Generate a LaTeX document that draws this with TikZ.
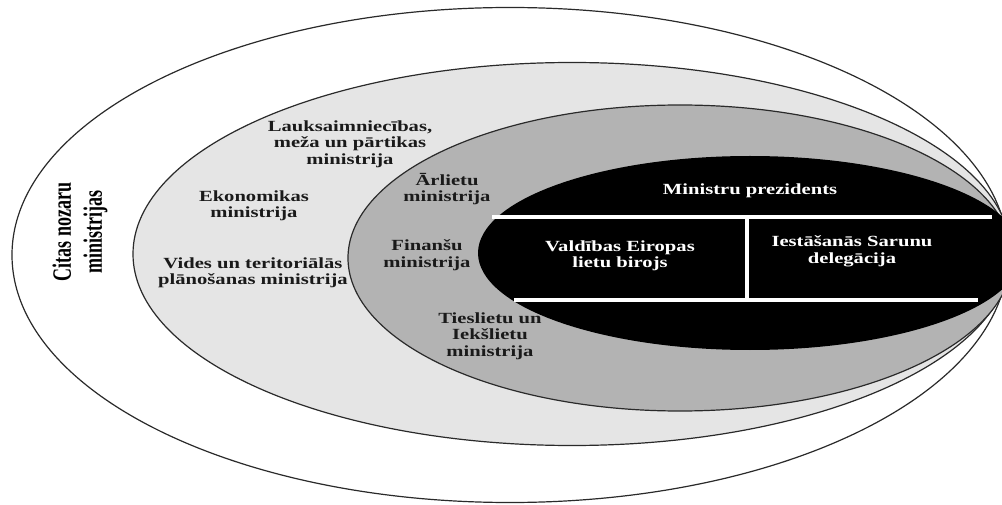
\documentclass[tikz,border=0pt]{standalone}
\usepackage{fontspec}
\setmainfont{Liberation Serif}
% wide bold face for the ministry labels, narrow face for the vertical label
\newfontfamily\widefont[FakeStretch=1.33]{Liberation Serif}
\newfontfamily\narrowfont[FakeStretch=0.68]{Liberation Serif}
\definecolor{ringline}{HTML}{2A2A2A}
\definecolor{ringlight}{HTML}{E5E5E5}
\definecolor{ringmid}{HTML}{B3B3B3}
\definecolor{labelink}{HTML}{1A1A1A}
\tikzset{
  ring/.style={draw=ringline, line width=1.2pt},
  divider/.style={draw=white, line width=3.5pt},
  lbl/.style={align=center, inner sep=0pt, text=labelink,
    font=\widefont\bfseries\fontsize{15.5}{16.5}\selectfont},
  lblw/.style={lbl, text=white},
  vlbl/.style={align=center, inner sep=0pt, rotate=90, text=black,
    font=\narrowfont\bfseries\fontsize{26.5}{31}\selectfont},
}
\begin{document}
\begin{tikzpicture}[x=1pt,y=-1pt]
\useasboundingbox (0,0) rectangle (1002,505);
\clip (0,0) rectangle (1002,505);
\fill[white] (0,0) rectangle (1002,505);

% nested rings, all meeting at the right edge
\draw[ring, fill=white]     (510,255) ellipse [x radius=498, y radius=247.5];
\draw[ring, fill=ringlight] (572,254) ellipse [x radius=439, y radius=191.5];
\draw[ring, fill=ringmid]   (680,258) ellipse [x radius=332, y radius=153];
\fill[black]                (750,253) ellipse [x radius=272, y radius=97];

% white dividers inside the core
\draw[divider] (492,217) -- (992,217);
\draw[divider] (514,300) -- (978,300);
\draw[divider] (747,217) -- (747,300);

% outer ring
\node[vlbl] (others) at (80,232) {Citas nozaru\\ministrijas};

% light ring
\node[lbl] (agri) at (350,144) {Lauksaimniecības,\\meža un pārtikas\\ministrija};
\node[lbl] (econ) at (254,206) {Ekonomikas\\ministrija};
\node[lbl] (envi) at (253,273) {Vides un teritoriālās\\plānošanas ministrija};

% middle ring
\node[lbl] (fore) at (447,189) {Ārlietu\\ministrija};
\node[lbl] (fina) at (427,255) {Finanšu\\ministrija};
\node[lbl] (just) at (490,336) {Tieslietu un\\Iekšlietu\\ministrija};

% core
\node[lblw] (pm)   at (750,191) {Ministru prezidents};
\node[lblw] (euro) at (620,256) {Valdības Eiropas\\lietu birojs};
\node[lblw] (dele) at (852,251) {Iestāšanās Sarunu\\delegācija};
\end{tikzpicture}
\end{document}
